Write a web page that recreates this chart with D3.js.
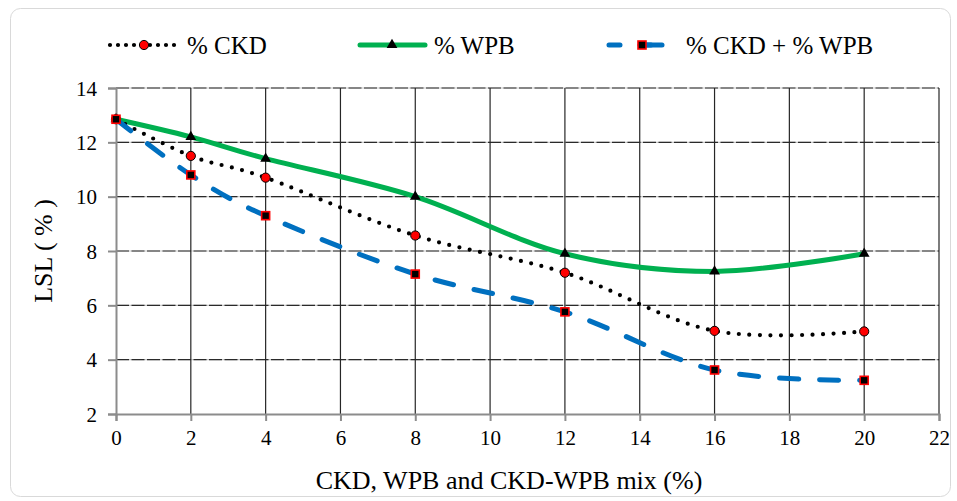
<!DOCTYPE html>
<html>
<head>
<meta charset="utf-8">
<script src="https://cdn.jsdelivr.net/npm/d3@7"></script>
<style>
  html, body { margin: 0; padding: 0; background: #fff; }
  svg { display: block; }
</style>
</head>
<body>
<svg id="chart" width="957" height="501"></svg>
<script>
// ---- data ----
const xValues = [0, 2, 4, 8, 12, 16, 20];
const ckdValues = [12.85, 11.5, 10.7, 8.57, 7.2, 5.06, 5.04];
const wpbValues = [12.85, 12.2, 11.4, 10.0, 7.9, 7.25, 7.9];
const mixValues = [12.85, 10.8, 9.3, 7.15, 5.76, 3.62, 3.24];
const seriesNames = ["% CKD", "% WPB", "% CKD + % WPB"];
const xTicks = [0, 2, 4, 6, 8, 10, 12, 14, 16, 18, 20, 22];
const yTicks = [2, 4, 6, 8, 10, 12, 14];
const xTitle = "CKD, WPB and CKD-WPB mix (%)";
const yTitle = "LSL ( % )";

const FONT = "'Liberation Serif', 'Times New Roman', Tinos, 'DejaVu Serif', 'Noto Serif', serif";

const svg = d3.select("#chart").style("font-family", FONT);

// outer frame
svg.append("rect").attr("x", 10.5).attr("y", 8.5).attr("width", 940).attr("height", 488)
  .attr("rx", 10).attr("fill", "#fff").attr("stroke", "#d9d9d9").attr("stroke-width", 1);

const x = d3.scaleLinear().domain([0, 22]).range([116, 939]);
const y = d3.scaleLinear().domain([2, 14]).range([414, 88]);

// horizontal grid (dashed)
const hg = svg.append("g");
yTicks.filter(v => v > 2).forEach(v => {
  hg.append("line").attr("x1", x(0)).attr("x2", x(22)).attr("y1", y(v)).attr("y2", y(v))
    .attr("stroke", "#c8c8c8").attr("stroke-width", 1.2);
  hg.append("line").attr("x1", x(0)).attr("x2", x(22)).attr("y1", y(v)).attr("y2", y(v))
    .attr("stroke", "#2a2a2a").attr("stroke-width", 1.2).attr("stroke-dasharray", "13,2.5");
});
// vertical grid (solid)
const vg = svg.append("g");
xTicks.filter(v => v > 0).forEach(v => {
  vg.append("line").attr("x1", x(v)).attr("x2", x(v)).attr("y1", y(14)).attr("y2", y(2))
    .attr("stroke", "#262626").attr("stroke-width", 1.2);
});

// axes
const xAxis = d3.axisBottom(x).tickValues(xTicks).tickSize(7).tickPadding(9).tickFormat(d3.format("d"));
const yAxis = d3.axisLeft(y).tickValues(yTicks).tickSize(8).tickPadding(11).tickFormat(d3.format("d"));

const gx = svg.append("g").attr("transform", `translate(0,${y(2)})`).call(xAxis);
const gy = svg.append("g").attr("transform", `translate(${x(0)},0)`).call(yAxis);
[gx, gy].forEach(g => {
  g.attr("font-family", null).attr("font-size", null);
  g.select(".domain").attr("stroke", "#8c8c8c").attr("stroke-width", 2);
  g.selectAll(".tick line").attr("stroke", "#8c8c8c").attr("stroke-width", 2);
  g.selectAll(".tick text").style("font-family", FONT).style("font-size", "21px").attr("fill", "#000");
});
gy.selectAll(".tick text").attr("dy", "0.34em");

// axis titles
svg.append("text").attr("x", 509).attr("y", 489).attr("text-anchor", "middle")
  .style("font-family", FONT).style("font-size", "26px").attr("fill", "#000").text(xTitle);
svg.append("text").attr("transform", `translate(52,${y(8)}) rotate(-90)`)
  .attr("text-anchor", "middle").style("font-family", FONT).style("font-size", "26px")
  .attr("fill", "#000").text(yTitle);

// series
const curve = d3.curveCardinal.tension(0);
const line = d3.line().x(d => x(d[0])).y(d => y(d[1])).curve(curve);
const zip = vals => xValues.map((v, i) => [v, vals[i]]);

const ckd = zip(ckdValues), wpb = zip(wpbValues), mix = zip(mixValues);

svg.append("path").datum(wpb).attr("d", line).attr("fill", "none")
  .attr("stroke", "#00b050").attr("stroke-width", 5).attr("stroke-linecap", "round");
svg.append("path").datum(ckd).attr("d", line).attr("fill", "none")
  .attr("stroke", "#000").attr("stroke-width", 4.2).attr("stroke-linecap", "round")
  .attr("stroke-dasharray", "0,10.5");
svg.append("path").datum(mix).attr("d", line).attr("fill", "none")
  .attr("stroke", "#0070c0").attr("stroke-width", 5).attr("stroke-linecap", "round")
  .attr("stroke-dasharray", "19,21");

const tri = d3.symbol().type(d3.symbolTriangle).size(50);
function drawTri(g, cx, cy) {
  g.append("path").attr("d", tri).attr("transform", `translate(${cx},${cy})`).attr("fill", "#000");
}
function drawCircle(g, cx, cy) {
  g.append("circle").attr("cx", cx).attr("cy", cy).attr("r", 4.6)
    .attr("fill", "#ff0000").attr("stroke", "#000").attr("stroke-width", 1);
}
function drawSquare(g, cx, cy) {
  g.append("rect").attr("x", cx - 4).attr("y", cy - 4).attr("width", 8).attr("height", 8)
    .attr("fill", "#000").attr("stroke", "#ff0000").attr("stroke-width", 1.6);
}

const mk = svg.append("g");
wpb.forEach(d => drawTri(mk, x(d[0]), y(d[1])));
ckd.forEach(d => drawCircle(mk, x(d[0]), y(d[1])));
mix.forEach(d => drawSquare(mk, x(d[0]), y(d[1])));

// legend
const lg = svg.append("g");
const ly = 45;
function legendText(tx, s) {
  lg.append("text").attr("x", tx).attr("y", 54).style("font-family", FONT)
    .style("font-size", "25px").attr("fill", "#000").text(s);
}
lg.append("line").attr("x1", 110).attr("x2", 178).attr("y1", ly).attr("y2", ly)
  .attr("stroke", "#000").attr("stroke-width", 4.2).attr("stroke-linecap", "round").attr("stroke-dasharray", "0,8");
drawCircle(lg, 144, ly);
legendText(187, seriesNames[0]);

lg.append("line").attr("x1", 360).attr("x2", 425).attr("y1", ly).attr("y2", ly)
  .attr("stroke", "#00b050").attr("stroke-width", 5).attr("stroke-linecap", "round");
drawTri(lg, 392, ly);
legendText(434, seriesNames[1]);

lg.append("line").attr("x1", 609).attr("x2", 662).attr("y1", ly).attr("y2", ly)
  .attr("stroke", "#0070c0").attr("stroke-width", 5).attr("stroke-linecap", "round").attr("stroke-dasharray", "11,20");
lg.append("line").attr("x1", 644).attr("x2", 662).attr("y1", ly).attr("y2", ly)
  .attr("stroke", "#0070c0").attr("stroke-width", 5).attr("stroke-linecap", "round");
drawSquare(lg, 642, ly);
legendText(686, seriesNames[2]);
</script>
</body>
</html>
